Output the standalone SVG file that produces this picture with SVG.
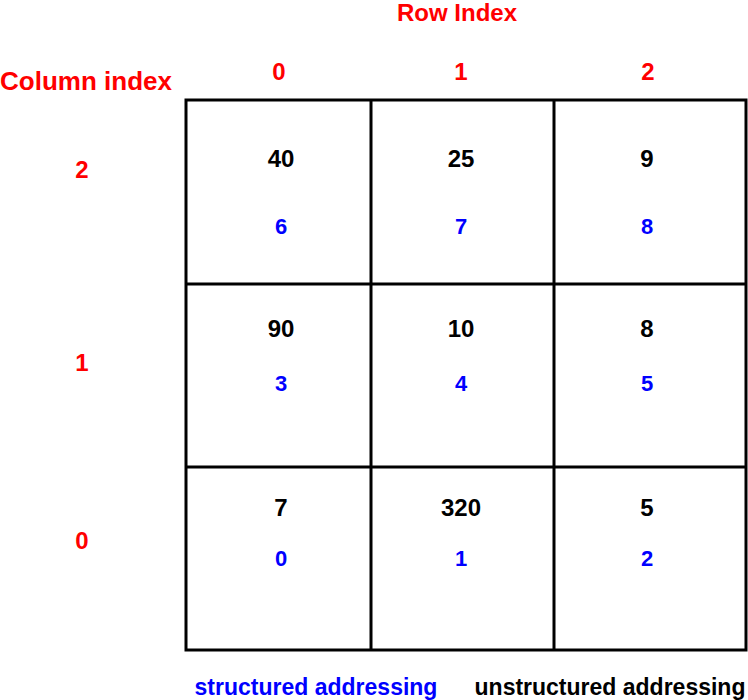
<svg xmlns="http://www.w3.org/2000/svg" width="748" height="700" viewBox="0 0 748 700">
<style>
text{font-family:"Liberation Sans",Arial,sans-serif;font-weight:bold;text-anchor:middle}
.r{fill:#ff0000;font-size:24px}
.v{fill:#000;font-size:24px}
.b{fill:#0000ff;font-size:22px}
.f{font-size:23px}
.g{stroke:#000;stroke-width:3;fill:none}
</style>
<rect width="748" height="700" fill="#fff"/>
<g id="grid">
<rect class="g" x="186" y="100" width="560" height="550"/>
<line class="g" x1="371" y1="100" x2="371" y2="650"/>
<line class="g" x1="554" y1="100" x2="554" y2="650"/>
<line class="g" x1="186" y1="284" x2="746" y2="284"/>
<line class="g" x1="186" y1="467" x2="746" y2="467"/>
</g>
<g id="labels">
<text class="r" x="457" y="21">Row Index</text>
<text class="r" x="86" y="90" style="font-size:26px">Column index</text>
<text class="r" x="279" y="80">0</text>
<text class="r" x="461" y="80">1</text>
<text class="r" x="648" y="80">2</text>
<text class="r" x="82" y="178">2</text>
<text class="r" x="82" y="371">1</text>
<text class="r" x="82" y="549">0</text>
</g>
<g id="cells">
<text class="v" x="281" y="167">40</text><text class="b" x="281" y="234">6</text>
<text class="v" x="461" y="167">25</text><text class="b" x="461" y="234">7</text>
<text class="v" x="647" y="167">9</text><text class="b" x="647" y="234">8</text>
<text class="v" x="281" y="337">90</text><text class="b" x="281" y="391">3</text>
<text class="v" x="461" y="337">10</text><text class="b" x="461" y="391">4</text>
<text class="v" x="647" y="337">8</text><text class="b" x="647" y="391">5</text>
<text class="v" x="281" y="516">7</text><text class="b" x="281" y="566">0</text>
<text class="v" x="461" y="516">320</text><text class="b" x="461" y="566">1</text>
<text class="v" x="647" y="516">5</text><text class="b" x="647" y="566">2</text>
</g>
<g id="footer">
<text class="f" style="fill:#0000ff" x="316" y="695">structured addressing</text>
<text class="f" style="fill:#000" x="610" y="695">unstructured addressing</text>
</g>
</svg>
